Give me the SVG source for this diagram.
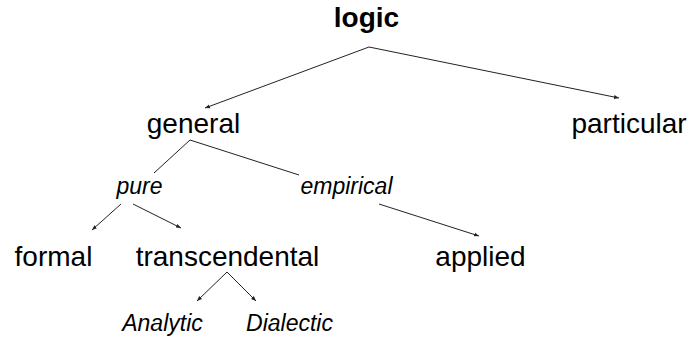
<svg xmlns="http://www.w3.org/2000/svg" width="691" height="338" viewBox="0 0 691 338">
<defs>
<style>
text{font-family:"Liberation Sans",Arial,Helvetica,sans-serif;fill:#000}
.b{font-size:28px;font-weight:bold}
.r{font-size:28px}
.i{font-size:23px;font-style:italic}
.c line{stroke:#222;stroke-width:1}
.c .a{marker-end:url(#ah)}
</style>
<marker id="ah" viewBox="0 0 10 10" refX="10" refY="5" markerWidth="5" markerHeight="5" markerUnits="userSpaceOnUse" orient="auto">
<path d="M0,1 L10,5 L0,9 z" fill="#222"/>
</marker>
</defs>
<rect width="691" height="338" fill="#fff"/>
<g class="c" id="connectors">
<line class="a" x1="369" y1="47" x2="205" y2="108"/>
<line class="a" x1="369" y1="47" x2="619" y2="98"/>
<line x1="190" y1="140" x2="154" y2="173"/>
<line x1="190" y1="140" x2="299" y2="175"/>
<line class="a" x1="121" y1="204" x2="92" y2="230"/>
<line class="a" x1="133" y1="204" x2="181" y2="228"/>
<line class="a" x1="379" y1="204" x2="479" y2="236"/>
<line class="a" x1="227" y1="272" x2="197" y2="301"/>
<line class="a" x1="227" y1="272" x2="256" y2="301"/>
</g>
<g id="logic"><text class="b" x="366.5" y="27" text-anchor="middle">logic</text></g>
<g id="general"><text class="r" x="193.5" y="133" text-anchor="middle">general</text></g>
<g id="particular"><text class="r" x="629" y="133" text-anchor="middle">particular</text></g>
<g id="pure"><text class="i" x="139.5" y="194" text-anchor="middle">pure</text></g>
<g id="empirical"><text class="i" x="346.5" y="194" text-anchor="middle">empirical</text></g>
<g id="formal"><text class="r" x="53.5" y="266" text-anchor="middle">formal</text></g>
<g id="transcendental"><text class="r" x="227.5" y="266" text-anchor="middle">transcendental</text></g>
<g id="applied"><text class="r" x="480.5" y="266" text-anchor="middle">applied</text></g>
<g id="analytic"><text class="i" x="162.5" y="331" text-anchor="middle">Analytic</text></g>
<g id="dialectic"><text class="i" x="289.5" y="331" text-anchor="middle">Dialectic</text></g>
</svg>
